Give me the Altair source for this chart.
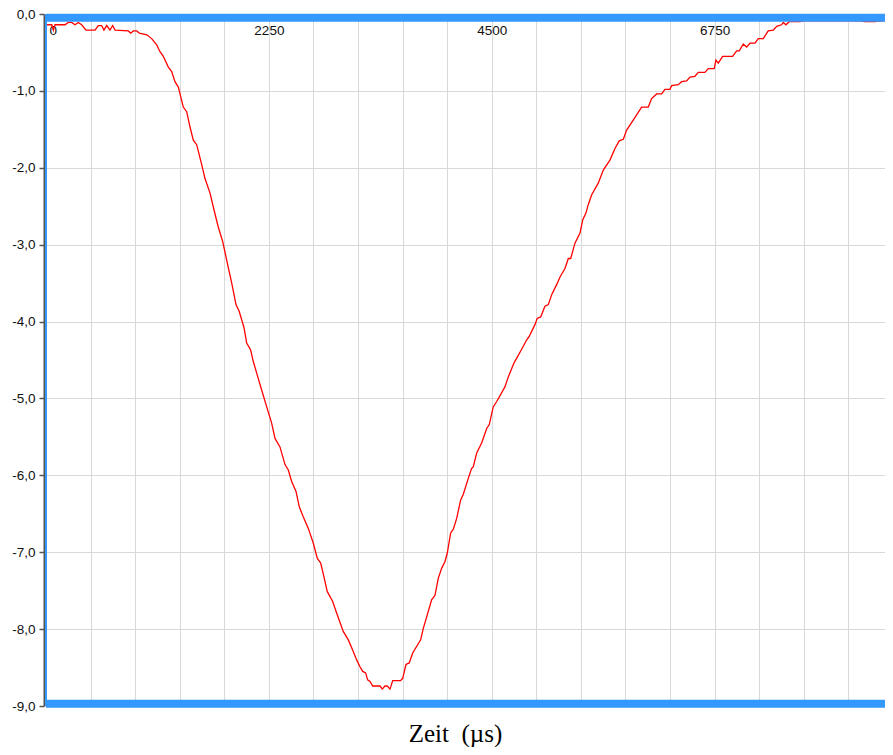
import json
import altair as alt
import pandas as pd

# --- data (time in µs, signal value) ---
t_us = [7, 58, 74, 91, 192, 225, 259, 293, 326, 360, 404, 495, 528, 562, 585, 613, 646, 673, 697,
        831, 855, 881, 916, 942, 1017, 1067, 1117, 1151, 1184, 1235, 1269, 1302, 1336, 1386, 1420,
        1454, 1487, 1521, 1572, 1605, 1656, 1689, 1739, 1784, 1824, 1875, 1918, 1951, 1999, 2026,
        2066, 2093, 2127, 2177, 2228, 2278, 2312, 2362, 2413, 2446, 2480, 2524, 2557, 2597, 2648,
        2698, 2739, 2773, 2806, 2839, 2894, 2934, 3001, 3052, 3102, 3136, 3170, 3197, 3227, 3247,
        3271, 3298, 3372, 3395, 3422, 3445, 3473, 3500, 3579, 3601, 3634, 3667, 3702, 3782, 3809,
        3843, 3893, 3927, 3960, 3994, 4028, 4051, 4085, 4112, 4146, 4186, 4212, 4263, 4297, 4313,
        4348, 4398, 4449, 4475, 4515, 4550, 4633, 4667, 4724, 4802, 4852, 4879, 4936, 4959, 4994,
        5037, 5071, 5105, 5155, 5189, 5239, 5273, 5297, 5340, 5391, 5418, 5451, 5474, 5509, 5575,
        5626, 5693, 5744, 5787, 5828, 5862, 5928, 6013, 6080, 6114, 6165, 6215, 6248, 6299, 6316,
        6383, 6417, 6468, 6501, 6551, 6585, 6652, 6686, 6746, 6763, 6787, 6831, 6932, 6972, 6999,
        7039, 7073, 7107, 7157, 7191, 7241, 7291, 7342, 7376, 7426, 7443, 7470, 7503, 7611, 7650,
        8220, 8267, 8368, 8419, 8550]
amp = [-0.14, -0.14, -0.21, -0.14, -0.14, -0.11, -0.11, -0.14, -0.11, -0.14, -0.21, -0.21, -0.15,
       -0.15, -0.21, -0.15, -0.21, -0.15, -0.21, -0.22, -0.25, -0.22, -0.22, -0.25, -0.27, -0.32,
       -0.40, -0.49, -0.55, -0.69, -0.75, -0.88, -0.95, -1.21, -1.27, -1.47, -1.64, -1.70, -1.96,
       -2.14, -2.33, -2.51, -2.77, -2.96, -3.20, -3.50, -3.78, -3.87, -4.08, -4.28, -4.37, -4.52,
       -4.67, -4.89, -5.11, -5.32, -5.52, -5.63, -5.86, -5.93, -6.08, -6.21, -6.41, -6.54, -6.69,
       -6.88, -7.08, -7.14, -7.32, -7.51, -7.64, -7.79, -8.03, -8.14, -8.29, -8.40, -8.49, -8.55,
       -8.57, -8.66, -8.68, -8.74, -8.74, -8.78, -8.74, -8.74, -8.78, -8.67, -8.67, -8.64, -8.46,
       -8.44, -8.31, -8.14, -7.99, -7.84, -7.62, -7.56, -7.34, -7.21, -7.12, -7.01, -6.75, -6.70,
       -6.56, -6.32, -6.25, -6.04, -5.91, -5.89, -5.71, -5.58, -5.39, -5.34, -5.11, -5.04, -4.85,
       -4.72, -4.54, -4.36, -4.24, -4.19, -4.04, -3.96, -3.94, -3.80, -3.78, -3.65, -3.52, -3.42,
       -3.31, -3.18, -3.18, -2.98, -2.85, -2.68, -2.59, -2.48, -2.35, -2.20, -2.03, -1.90, -1.75,
       -1.65, -1.63, -1.51, -1.38, -1.21, -1.21, -1.10, -1.04, -1.04, -0.98, -0.98, -0.93, -0.92,
       -0.88, -0.87, -0.82, -0.81, -0.76, -0.76, -0.71, -0.71, -0.60, -0.64, -0.55, -0.55, -0.48,
       -0.48, -0.39, -0.43, -0.38, -0.38, -0.32, -0.32, -0.22, -0.21, -0.16, -0.14, -0.11, -0.14,
       -0.10, -0.10, -0.09, -0.09, -0.10, -0.10, -0.09, -0.09]

# visible window (the reference is cut at the browser edge near 8550 µs)
x_domain = [0, 8470]
x_grid = list(range(0, 8471, 450))
x_labels = [0, 2250, 4500, 6750]
y_domain = [-9, 0]
y_grid = [-9 + 0.5 * i for i in range(19)]
y_labels = [0, -1, -2, -3, -4, -5, -6, -7, -8, -9]
x_title = "Zeit \u00a0(µs)"

df = pd.DataFrame({"t": t_us, "v": amp})

BLUE = "#3399ff"
GRID = "#d9d9d9"

x_label_expr = "indexof(%s, datum.value) >= 0 ? format(datum.value, 'd') : ''" % json.dumps(x_labels)
y_is_label = "indexof(%s, datum.value) >= 0" % json.dumps(y_labels)
y_label_expr = ("%s ? (datum.value < 0 ? '-' : '') + format(abs(datum.value), 'd') + ',0' : ''"
                % y_is_label)

x_axis = alt.Axis(
    orient="top", values=x_grid, labelExpr=x_label_expr, title=None,
    domain=False, ticks=False, tickSize=0, labelPadding=-16, labelBaseline="middle",
    labelFlush=True, labelFlushOffset=-3, labelOverlap=False,
    labelFont="Liberation Sans", labelFontSize=13.5, labelColor="#111",
    grid=True, gridColor=GRID, gridWidth=1,
)
y_axis = alt.Axis(
    orient="left", values=y_grid, labelExpr=y_label_expr, title=None,
    offset=2, domainColor="#555", domainWidth=2,
    tickColor="#555", tickSize=5, tickWidth=1.5,
    tickOpacity={"condition": {"test": y_is_label, "value": 1}, "value": 0},
    labelPadding=4, labelFont="Liberation Sans", labelFontSize=13.5, labelColor="#111",
    labelOverlap=False,
    grid=True, gridColor=GRID, gridWidth=1,
)

line = alt.Chart(df).mark_line(color="#ff0000", strokeWidth=1.3, clip=True).encode(
    x=alt.X("t:Q", scale=alt.Scale(domain=x_domain, nice=False, zero=False), axis=x_axis),
    y=alt.Y("v:Q", scale=alt.Scale(domain=y_domain, nice=False, zero=False), axis=y_axis),
)

top_band = alt.Chart().mark_rule(color=BLUE, strokeWidth=8).encode(y=alt.YDatum(-0.05))
bottom_band = alt.Chart().mark_rule(color=BLUE, strokeWidth=8).encode(y=alt.YDatum(-8.97))
left_line = alt.Chart().mark_rule(color=BLUE, strokeWidth=2).encode(x=alt.XDatum(0))

chart = alt.layer(line, top_band, bottom_band, left_line).properties(
    width=839, height=692,
    autosize=alt.AutoSizeParams(type="none"),
    padding={"left": 38, "top": 6, "right": 0, "bottom": 41},
    title=alt.TitleParams(
        text=x_title, orient="bottom", anchor="middle", font="Liberation Serif",
        fontSize=25, fontWeight="normal", color="black", offset=9, dx=-10,
    ),
).configure_view(stroke=None)

chart.save("out.html", embed_options={"renderer": "svg", "actions": False})
